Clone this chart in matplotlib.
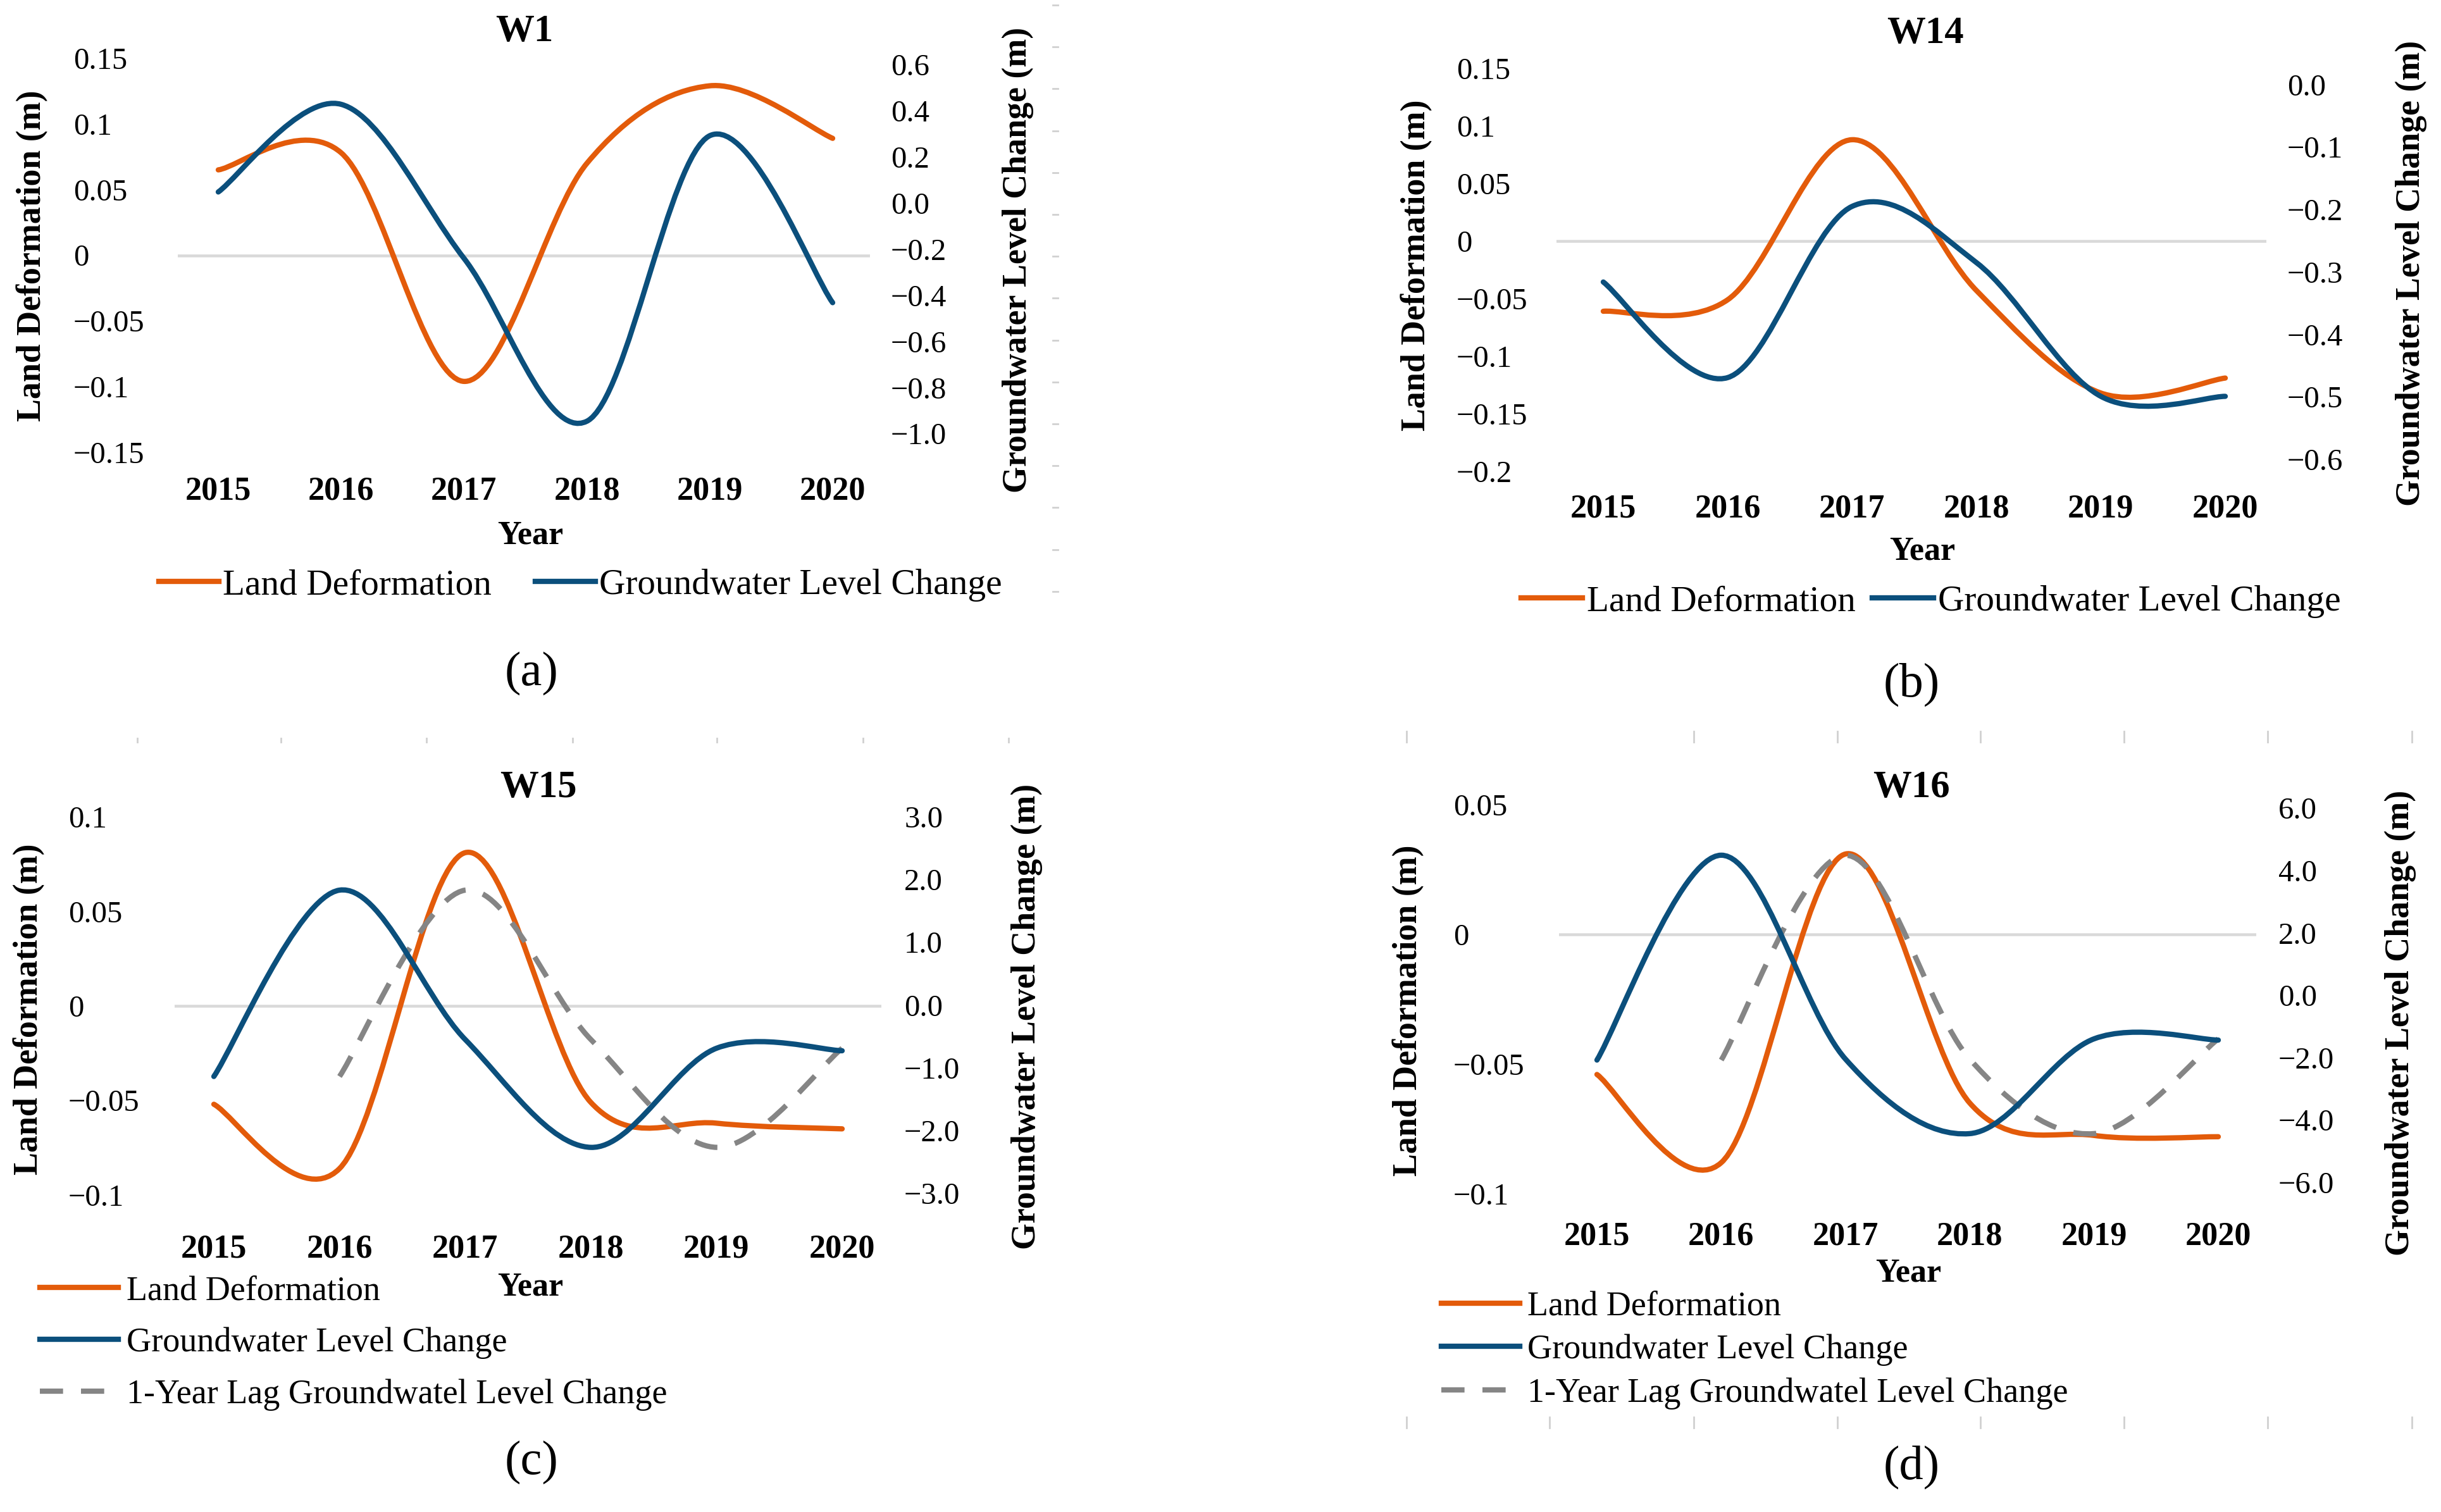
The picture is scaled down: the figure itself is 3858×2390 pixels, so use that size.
import numpy as np
import matplotlib
matplotlib.use("Agg")
import matplotlib.pyplot as plt
from matplotlib.path import Path
from matplotlib.patches import PathPatch
from matplotlib.lines import Line2D

plt.rcParams['font.family'] = ['Liberation Serif', 'DejaVu Serif']

W, H, DPI = 3858, 2390, 250

years = [2015, 2016, 2017, 2018, 2019, 2020]

# W1
land_w1 = [0.065, 0.078, -0.096, 0.070, 0.129, 0.089]
gw_w1 = [0.048, 0.428, -0.24, -0.946, 0.292, -0.432]
# W14
land_w14 = [-0.061, -0.051, 0.088, -0.043, -0.132, -0.119]
gw_w14 = [-0.316, -0.469, -0.195, -0.285, -0.499, -0.499]
# W15
land_w15 = [-0.052, -0.086, 0.081, -0.051, -0.062, -0.065]
gw_w15 = [-1.14, 1.83, -0.55, -2.27, -0.69, -0.73]
lag_w15 = [np.nan, -1.14, 1.83, -0.55, -2.27, -0.69]
# W16
land_w16 = [-0.054, -0.088, 0.031, -0.065, -0.0775, -0.078]
gw_w16 = [-2.08, 4.49, -2.05, -4.44, -1.40, -1.44]
lag_w16 = [np.nan, -2.08, 4.49, -2.05, -4.44, -1.40]

ORANGE = '#E35B0A'
BLUE = '#0B4F7C'
GRAY = '#858585'
FRAME = '#D0D0D0'
LW = 2.4


def px(x, y):
    return x / W, 1 - y / H


def pt(p):
    return p * 72 / DPI


def excel_smooth(x, y):
    # smoothed line like Excel: cubic bezier through the data points
    pts = [(xi, yi) for xi, yi in zip(x, y) if not np.isnan(yi)]
    n = len(pts)
    verts = [pts[0]]
    codes = [Path.MOVETO]
    for i in range(n - 1):
        p0 = pts[max(i - 1, 0)]
        p1 = pts[i]
        p2 = pts[i + 1]
        p3 = pts[min(i + 2, n - 1)]
        c1 = (p1[0] + (p2[0] - p0[0]) / 6, p1[1] + (p2[1] - p0[1]) / 6)
        c2 = (p2[0] - (p3[0] - p1[0]) / 6, p2[1] - (p3[1] - p1[1]) / 6)
        verts += [c1, c2, p2]
        codes += [Path.CURVE4] * 3
    return Path(verts, codes)


def general(v):
    s = ('%.2f' % v).rstrip('0').rstrip('.')
    if s in ('-0', ''):
        s = '0'
    return s.replace('-', '\u2212')


def one_dec(v):
    s = '%.1f' % v
    if s == '-0.0':
        s = '0.0'
    return s.replace('-', '\u2212')


panels = [
    dict(title='W1', cap='(a)', land=land_w1, gw=gw_w1, lag=None,
         box=(281, 92, 1375, 715), x15=345, x20=1316,
         ylim=(-0.15, 0.15), yt=[0.15, 0.1, 0.05, 0, -0.05, -0.1, -0.15],
         ylim2=(-1.081, 0.628), yt2=[0.6, 0.4, 0.2, 0.0, -0.2, -0.4, -0.6, -0.8, -1.0],
         lab_l=116, lab_r=1408, xt_top=753,
         t_pos=(829, 50), yl_pos=(51, 404), yr_pos=(1609, 411),
         year_pos=(838, 846), cap_pos=(840, 1064),
         leg=dict(x=251, y=925, fs=16.5, hl=1.65, colsp=1.2)),
    dict(title='W14', cap='(b)', land=land_w14, gw=gw_w14, lag=None,
         box=(2460, 108, 3582, 745), x15=2534, x20=3517,
         ylim=(-0.2, 0.15), yt=[0.15, 0.1, 0.05, 0, -0.05, -0.1, -0.15, -0.2],
         ylim2=(-0.619, 0.026), yt2=[0.0, -0.1, -0.2, -0.3, -0.4, -0.5, -0.6],
         lab_l=2302, lab_r=3615, xt_top=781,
         t_pos=(3043, 53), yl_pos=(2239, 419), yr_pos=(3811, 432),
         year_pos=(3038, 871), cap_pos=(3021, 1082),
         leg=dict(x=2404, y=951, fs=16.5, hl=1.7, colsp=0.45)),
    dict(title='W15', cap='(c)', land=land_w15, gw=gw_w15, lag=lag_w15,
         box=(276, 1291, 1393, 1889), x15=338, x20=1331,
         ylim=(-0.1, 0.1), yt=[0.1, 0.05, 0, -0.05, -0.1],
         ylim2=(-3.03, 2.97), yt2=[3.0, 2.0, 1.0, 0.0, -1.0, -2.0, -3.0],
         lab_l=108, lab_r=1429, xt_top=1951,
         t_pos=(851, 1245), yl_pos=(46, 1595), yr_pos=(1623, 1607),
         year_pos=(838, 2034), cap_pos=(840, 2311),
         leg=dict(x=63, y=2123, fs=15.6, hl=2.29, lsp=0.58)),
    dict(title='W16', cap='(d)', land=land_w16, gw=gw_w16, lag=lag_w16,
         box=(2464, 1272, 3566, 1887), x15=2524, x20=3506,
         ylim=(-0.1, 0.05), yt=[0.05, 0, -0.05, -0.1],
         ylim2=(-6.37, 6.11), yt2=[6.0, 4.0, 2.0, 0.0, -2.0, -4.0, -6.0],
         lab_l=2297, lab_r=3601, xt_top=1931,
         t_pos=(3021, 1245), yl_pos=(2226, 1597), yr_pos=(3794, 1617),
         year_pos=(3016, 2012), cap_pos=(3021, 2319),
         leg=dict(x=2278, y=2134, fs=15.6, hl=2.29, lsp=0.33)),
]

# faint remains of the original chart frames
frame_dash_y = [8 + 66.2 * k for k in range(15)]
frame_top_d = [2223, 2677, 2904, 3130, 3357, 3584, 3812]
frame_bot_d = [2223, 2449, 2677, 2904, 3130, 3357, 3584, 3812]
frame_top_c = [217, 444, 674, 905, 1133, 1364, 1594]

fig = plt.figure(figsize=(W / DPI, H / DPI), dpi=DPI)

for y in frame_dash_y:
    fig.add_artist(Line2D([1664 / W, 1672 / W], [1 - y / H] * 2, color=FRAME, lw=0.8))
for x in frame_top_d:
    fig.add_artist(Line2D([x / W] * 2, [1 - 1156 / H, 1 - 1173 / H], color=FRAME, lw=0.8))
for x in frame_bot_d:
    fig.add_artist(Line2D([x / W] * 2, [1 - 2240 / H, 1 - 2257 / H], color=FRAME, lw=0.8))
for x in frame_top_c:
    fig.add_artist(Line2D([x / W] * 2, [1 - 1167 / H, 1 - 1173 / H], color=FRAME, lw=0.8))

for p in panels:
    l, t, r, b = p['box']
    ax = fig.add_axes([l / W, 1 - b / H, (r - l) / W, (b - t) / H])
    ax2 = ax.twinx()
    step = (p['x20'] - p['x15']) / 5
    ax.set_xlim(2015 + (l - p['x15']) / step, 2015 + (r - p['x15']) / step)
    ax.set_ylim(*p['ylim'])
    ax2.set_ylim(*p['ylim2'])
    for a in (ax, ax2):
        a.patch.set_visible(False)
        for s in a.spines.values():
            s.set_visible(False)
    ax.axhline(0, color='#D9D9D9', lw=1.3, zorder=0)

    ax.add_patch(PathPatch(excel_smooth(years, p['land']), fill=False,
                           edgecolor=ORANGE, lw=LW, capstyle='round', joinstyle='round'))
    if p['lag'] is not None:
        ax2.add_patch(PathPatch(excel_smooth(years, p['lag']), fill=False,
                                edgecolor=GRAY, lw=LW, linestyle=(0, (4.4, 3.4)),
                                capstyle='butt', joinstyle='round'))
    ax2.add_patch(PathPatch(excel_smooth(years, p['gw']), fill=False,
                            edgecolor=BLUE, lw=LW, capstyle='round', joinstyle='round'))

    ax.set_xticks(years)
    ax.set_xticklabels([str(y) for y in years], fontsize=15, fontweight='bold')
    ax.tick_params(axis='x', length=0, pad=pt(p['xt_top'] - b))
    ax.set_yticks(p['yt'])
    ax.set_yticklabels([general(v) for v in p['yt']], fontsize=14, ha='left')
    ax.tick_params(axis='y', length=0, pad=pt(l - p['lab_l']))
    ax2.set_yticks(p['yt2'])
    ax2.set_yticklabels([one_dec(v) for v in p['yt2']], fontsize=14)
    ax2.tick_params(axis='y', length=0, pad=pt(p['lab_r'] - r))

    fig.text(*px(*p['t_pos']), p['title'], fontsize=17.5, fontweight='bold',
             ha='center', va='center')
    fig.text(*px(*p['yl_pos']), 'Land Deformation (m)', fontsize=15.5,
             fontweight='bold', rotation=90, ha='center', va='center')
    fig.text(*px(*p['yr_pos']), 'Groundwater Level Change (m)', fontsize=15.5,
             fontweight='bold', rotation=90, ha='center', va='center')
    fig.text(*px(*p['year_pos']), 'Year', fontsize=15, fontweight='bold',
             ha='center', va='center')
    fig.text(*px(*p['cap_pos']), p['cap'], fontsize=22, ha='center', va='center')

    handles = [Line2D([], [], color=ORANGE, lw=LW),
               Line2D([], [], color=BLUE, lw=LW)]
    labels = ['Land Deformation', 'Groundwater Level Change']
    lg = p['leg']
    if p['lag'] is not None:
        handles.append(Line2D([], [], color=GRAY, lw=LW, linestyle=(0, (4.4, 3.4))))
        labels.append('1-Year Lag Groundwatel Level Change')
        ax.legend(handles, labels, loc='center left',
                  bbox_to_anchor=px(lg['x'], lg['y']), bbox_transform=fig.transFigure,
                  frameon=False, fontsize=lg['fs'], ncol=1, handlelength=lg['hl'],
                  handletextpad=0.23, labelspacing=lg['lsp'],
                  borderpad=0, borderaxespad=0)
    else:
        ax.legend(handles, labels, loc='center left',
                  bbox_to_anchor=px(lg['x'], lg['y']), bbox_transform=fig.transFigure,
                  frameon=False, fontsize=lg['fs'], ncol=2, handlelength=lg['hl'],
                  handletextpad=0.12, columnspacing=lg['colsp'],
                  borderpad=0, borderaxespad=0)

fig.savefig('out.png', dpi=DPI)
